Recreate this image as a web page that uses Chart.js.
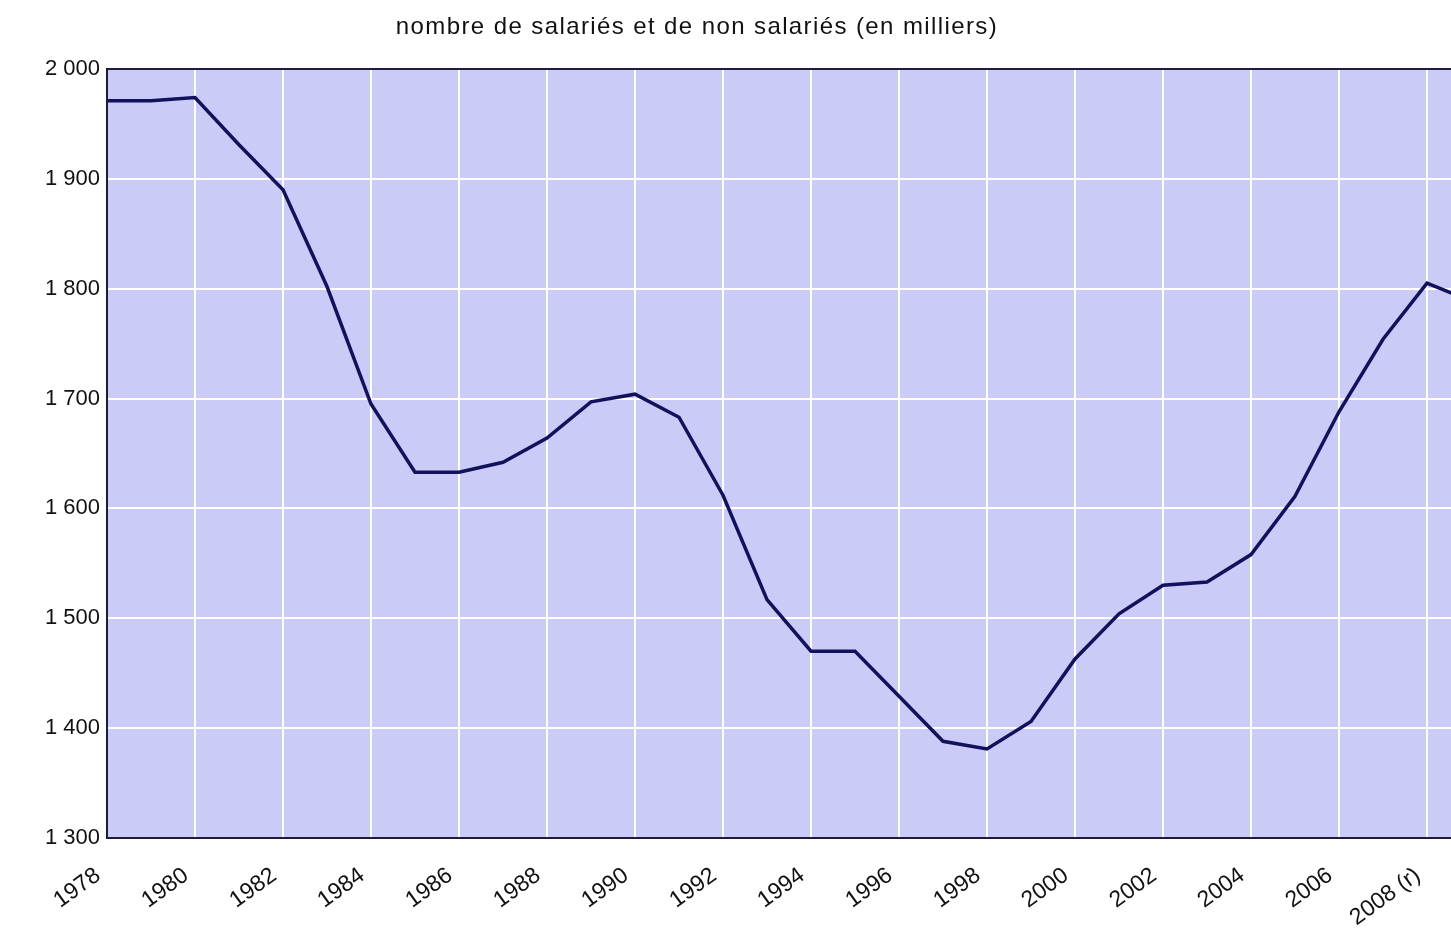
<!DOCTYPE html>
<html lang="fr">
<head>
<meta charset="utf-8">
<title>Salariés et non salariés</title>
<script src="https://cdn.jsdelivr.net/npm/chart.js@4.4.0/dist/chart.umd.min.js"></script>
<style>
  body{margin:0;background:#fff;}
  #wrap{width:1451px;height:930px;position:relative;}
</style>
</head>
<body>
<div id="wrap"><canvas id="chart"></canvas></div>
<script>
/* ---- données (milliers) ---- */
const title = 'nombre de salariés et de non salariés (en milliers)';
const years = [1978,1979,1980,1981,1982,1983,1984,1985,1986,1987,1988,1989,1990,1991,1992,1993,
               1994,1995,1996,1997,1998,1999,2000,2001,2002,2003,2004,2005,2006,2007,2008,2009];
const effectifs = [1971,1971,1974,1931,1890,1802,1695,1633,1633,1642,1664,1697,1704,1683,1612,1517,
                   1470,1470,1429,1388,1381,1406,1463,1504,1530,1533,1558,1611,1688,1754,1805,1789];
const yTicks = [1300,1400,1500,1600,1700,1800,1900,2000];
const labelRevised = {2008:'2008 (r)'};

const navy = '#12125c';
const axisCol = '#1c1c3c';

// fond lavande de la zone de tracé + titre
const decor = {
  id:'decor',
  beforeDraw(chart){
    const {ctx, chartArea:a} = chart;
    ctx.save();
    ctx.fillStyle = '#cbcbf8';
    ctx.fillRect(a.left, a.top, a.right-a.left, a.bottom-a.top);
    ctx.restore();
  },
  afterDraw(chart){
    const ctx = chart.ctx;
    ctx.save();
    ctx.font = '24px "Liberation Sans", Arial, sans-serif';
    ctx.letterSpacing = '1.4px';
    ctx.fillStyle = '#111';
    ctx.textAlign = 'center';
    ctx.textBaseline = 'middle';
    ctx.fillText(title, 697, 27);
    ctx.restore();
  }
};

new Chart(document.getElementById('chart'), {
  type:'line',
  data:{
    datasets:[{
      data: years.map((y,i)=>({x:y, y:effectifs[i]})),
      borderColor: navy,
      borderWidth: 3.5,
      pointRadius: 0,
      tension: 0,
      fill: false
    }]
  },
  options:{
    responsive:true,
    maintainAspectRatio:false,
    animation:false,
    layout:{padding:{top:69,left:0,right:0,bottom:0}},
    plugins:{legend:{display:false}, tooltip:{enabled:false}},
    scales:{
      x:{
        type:'linear',
        min:1978,
        max:1978 + (1451-107)/44,
        afterBuildTicks:(s)=>{ s.ticks = s.ticks.filter(t=>Number.isInteger(t.value)); },
        afterFit:(s)=>{ s.height = 92; s.paddingLeft = 0; s.paddingRight = 0; },
        ticks:{
          stepSize:2,
          includeBounds:false,
          minRotation:36,
          maxRotation:36,
          padding:24,
          labelOffset:-9,
          color:'#111',
          font:{family:'"Liberation Sans", Arial, sans-serif', size:23},
          callback:(v)=> labelRevised[v] || String(v)
        },
        grid:{color:'#ffffff', lineWidth:2, drawTicks:false},
        border:{color:axisCol, width:2}
      },
      y:{
        min:1300,
        max:2000,
        afterBuildTicks:(s)=>{ s.ticks = yTicks.map(v=>({value:v})); },
        afterFit:(s)=>{ s.width = 107; },
        ticks:{
          padding:7,
          color:'#111',
          font:{family:'"Liberation Sans", Arial, sans-serif', size:22},
          callback:(v)=> Math.floor(v/1000) + ' ' + String(v%1000).padStart(3,'0')
        },
        grid:{
          color:(c)=> c.tick && c.tick.value === 2000 ? axisCol : '#ffffff',
          lineWidth:2,
          drawTicks:false
        },
        border:{color:axisCol, width:2}
      }
    }
  },
  plugins:[decor]
});
</script>
</body>
</html>
